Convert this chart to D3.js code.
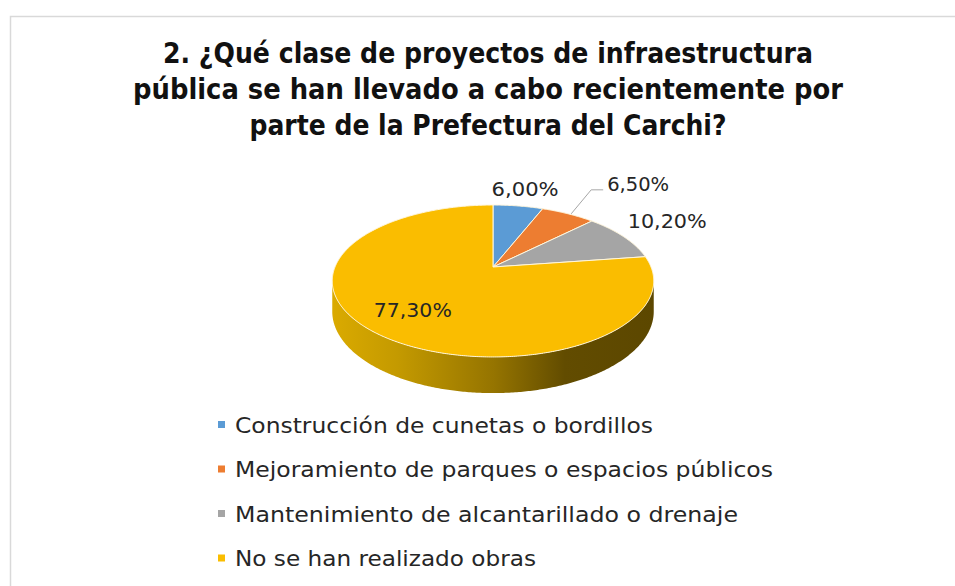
<!DOCTYPE html>
<html>
<head>
<meta charset="utf-8">
<script src="https://cdn.jsdelivr.net/npm/d3@7"></script>
<style>
  body { margin: 0; background: #fff; }
  text { font-family: "Century Gothic", "DejaVu Sans", sans-serif; }
</style>
</head>
<body>
<div id="chart"></div>
<script>
// Data
var categories = [
    "Construcción de cunetas o bordillos",
    "Mejoramiento de parques o espacios públicos",
    "Mantenimiento de alcantarillado o drenaje",
    "No se han realizado obras"
];
var values = [6.00, 6.50, 10.20, 77.30];
var labels = ["6,00%", "6,50%", "10,20%", "77,30%"];
var colors = ["#5B9BD5", "#ED7D31", "#A5A5A5", "#FABD00"];
var titleLines = [
    "2. ¿Qué clase de proyectos de infraestructura",
    "pública se han llevado a cabo recientemente por",
    "parte de la Prefectura del Carchi?"
];

// Canvas
var width = 955, height = 586;

var svg = d3.select("#chart").append("svg")
    .attr("width", width)
    .attr("height", height);

// chart border
svg.append("rect")
    .attr("x", 10.5).attr("y", 16.5)
    .attr("width", 960).attr("height", 600)
    .attr("fill", "#fff")
    .attr("stroke", "#D9D9D9")
    .attr("stroke-width", 1.5);

// Title
var titleWidths = [650, 710, 477];
svg.append("g").selectAll("text")
    .data(titleLines)
    .join("text")
    .attr("x", 488)
    .attr("y", function(d, i) { return 63 + i * 36; })
    .attr("text-anchor", "middle")
    .attr("font-size", 28.5)
    .attr("font-weight", "bold")
    .attr("fill", "#111")
    .attr("textLength", function(d, i) { return titleWidths[i]; })
    .attr("lengthAdjust", "spacingAndGlyphs")
    .text(function(d) { return d; });

// 3D pie projection (perspective tilt)
var cx = 493, cy = 267;
var A = 158, B = 73.4, k = 0.184, H = 29.5;

function project(t, r, drop) {
    var u = Math.sin(t) * r, v = -Math.cos(t) * r;
    var s = 1 - k * v;
    return [cx + A * u / s, cy + (B * v + (drop || 0)) / s];
}

var pie = d3.pie().sort(null).value(function(d) { return d; });
var arcs = pie(values);

var defs = svg.append("defs");
var grad = defs.append("linearGradient")
    .attr("id", "side")
    .attr("gradientUnits", "userSpaceOnUse")
    .attr("x1", 333).attr("x2", 655).attr("y1", 0).attr("y2", 0);
grad.append("stop").attr("offset", 0).attr("stop-color", "#DAAA00");
grad.append("stop").attr("offset", 0.2).attr("stop-color", "#C49A00");
grad.append("stop").attr("offset", 0.5).attr("stop-color", "#957400");
grad.append("stop").attr("offset", 0.72).attr("stop-color", "#624C00");
grad.append("stop").attr("offset", 1).attr("stop-color", "#5C4700");

// side wall (only the front of the big slice shows)
var tR = Math.acos(-k), tL = 2 * Math.PI - tR;
var sidePts = d3.range(tR, tL, 0.01).concat([tL]).map(function(t) { return project(t, 1, 0); });
var bottomPts = d3.range(tL, tR, -0.01).concat([tR]).map(function(t) { return project(t, 1, H); });
svg.append("path")
    .attr("d", d3.line()(sidePts.concat(bottomPts)) + "Z")
    .attr("fill", "url(#side)");

// top face slices
function slicePath(a) {
    var pts = [[cx, cy]];
    var n = Math.max(4, Math.ceil((a.endAngle - a.startAngle) / 0.01));
    for (var i = 0; i <= n; i++) {
        pts.push(project(a.startAngle + (a.endAngle - a.startAngle) * i / n, 1, 0));
    }
    return d3.line()(pts) + "Z";
}

svg.append("g").selectAll("path")
    .data(arcs)
    .join("path")
    .attr("d", slicePath)
    .attr("fill", function(d, i) { return colors[i]; })
    .attr("stroke", "#FFF6DC")
    .attr("stroke-width", 1)
    .attr("stroke-linejoin", "round");

// data labels
var labelWidths = [67, 62, 79, 78];
function labelPos(d, i) {
    var mid = (d.startAngle + d.endAngle) / 2;
    if (i === 0) return project(mid, 1.35, 0);
    if (i === 1) { var e = project(mid, 1, 0); return [e[0] + 70, e[1] - 30]; }
    if (i === 2) { var p = project(mid, 1.4, 0); return [p[0] - 3, p[1] - 5]; }
    return project(mid, 0.7, 0);
}

// leader line for the orange slice
var o = arcs[1], oMid = (o.startAngle + o.endAngle) / 2, oEdge = project(oMid, 1, 0);
svg.append("path")
    .attr("d", d3.line()([[oEdge[0] + 3, oEdge[1]], [oEdge[0] + 23, oEdge[1] - 24], [oEdge[0] + 35, oEdge[1] - 24]]))
    .attr("fill", "none")
    .attr("stroke", "#A6A6A6")
    .attr("stroke-width", 1);

svg.append("g").selectAll("text")
    .data(arcs)
    .join("text")
    .attr("x", function(d, i) { return labelPos(d, i)[0]; })
    .attr("y", function(d, i) { return labelPos(d, i)[1] + 7; })
    .attr("text-anchor", "middle")
    .attr("font-size", 20)
    .attr("fill", "#262626")
    .attr("textLength", function(d, i) { return labelWidths[i]; })
    .attr("lengthAdjust", "spacingAndGlyphs")
    .text(function(d, i) { return labels[i]; });

// Legend
var legendWidths = [418, 538, 503, 301];
var legend = svg.append("g").selectAll("g")
    .data(categories)
    .join("g")
    .attr("transform", function(d, i) { return "translate(218," + (425 + i * 44.5) + ")"; });

legend.append("rect")
    .attr("x", 0).attr("y", -4)
    .attr("width", 7).attr("height", 7)
    .attr("fill", function(d, i) { return colors[i]; });

legend.append("text")
    .attr("x", 17)
    .attr("y", 7.5)
    .attr("font-size", 22)
    .attr("fill", "#262626")
    .attr("textLength", function(d, i) { return legendWidths[i]; })
    .attr("lengthAdjust", "spacingAndGlyphs")
    .text(function(d) { return d; });
</script>
</body>
</html>
